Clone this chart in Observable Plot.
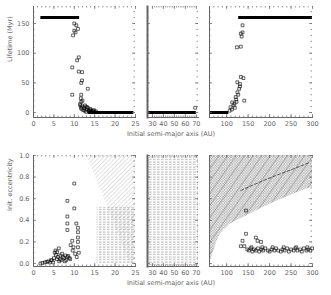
<!DOCTYPE html>
<html><head><meta charset="utf-8">
<script src="https://cdn.jsdelivr.net/npm/d3@7"></script>
<script src="https://cdn.jsdelivr.net/npm/@observablehq/plot@0.6"></script>
<style>
body{margin:0;background:#fff}
#c{position:relative;width:331px;height:295px;overflow:hidden;font-family:"DejaVu Sans",sans-serif;background:#fff}
#c svg{position:absolute;overflow:visible;background:transparent}
</style></head><body><div id="c"></div>
<script>
// ---------- data ----------
const xTitle = "Initial semi-major axis (AU)";
const yTitleTop = "Lifetime (Myr)";
const yTitleBottom = "Init. eccentricity";

// top-left (lifetime vs a, 0-25 AU)
const tlFlat = [{a1: 1.8, a2: 11.3, v: 160}, {a1: 13.5, a2: 24.6, v: 0}];
const tlA = [10.0,10.5,10.0,9.7,10.9,10.3,11.1,10.7,9.5,11.1,11.9,11.9,11.7,13.3,9.5,11.7,11.6,11.7,11.9,11.6,12.8,13.3,13.9,12.5,14.6,13.6,14.2,15.0,11.4,11.8,12.2,12.6,13.0,13.5,14.0,14.4,12.0,12.4,13.1,13.8,11.5,12.9,14.8,15.3];
const tlL = [150,147,138,130,141,135,93,88,76,69,68,54,50,40,30,30,24,18,10,8,10,8,6,3,3,3,1,1,14,6,4,12,5,2,4,2,20,7,9,3,12,1,4,2];
// top-middle (25-72 AU)
const tmFlat = [{a1: 25.5, a2: 70, v: 0}];
const tmA = [69];
const tmL = [8];
// top-right (60-300 AU)
const trFlat = [{a1: 60, a2: 105, v: 0}, {a1: 128, a2: 300, v: 160}];
const trA = [109,113,121,125,129,141,131,125,133,139,124,133,133,137,135,137,118,127,122,131,116,112,119,123,107];
const trL = [9,17,26,34,40,20,48,51,60,58,110,111,133,135,128,147,15,30,22,44,12,5,8,18,3];

// bottom-left (eccentricity vs a)
const blA = [10.0,8.3,10.0,8.3,8.3,8.3,10.5,10.9,10.9,10.9,10.9,10.9,11.1,9.5,9.1,9.8,6.2,5.8,5.4,6.6,7.8,8.3,4.5,5.0,5.5,6.0,6.5,7.0,7.5,8.0,8.5,9.0,5.2,6.3,7.2,4.8,5.7,6.8,7.7,8.8,1.7,2.2,2.8,3.2,3.6,4.0,4.3,9.6,10.2,10.6];
const blE = [0.74,0.58,0.51,0.435,0.37,0.31,0.37,0.33,0.29,0.24,0.20,0.15,0.10,0.21,0.17,0.15,0.14,0.105,0.12,0.074,0.074,0.06,0.03,0.05,0.08,0.06,0.04,0.09,0.05,0.03,0.07,0.04,0.10,0.02,0.06,0.01,0.04,0.03,0.02,0.05,0.0,0.005,0.01,0.015,0.02,0.01,0.03,0.12,0.09,0.06];
// excluded regions, bottom-left
const blDiagA = [13.0, 18.5, 23.5];
const blDiagE = [1.0, 0.5, 0.0];
const blHoriz = [{a1: 15.6, a2: 25, e1: 0, e2: 0.52}];
// bottom-middle excluded region (whole panel)
const bmHoriz = [{a1: 25.5, a2: 72, e1: -0.028, e2: 1.0}];
// bottom-right
const brBoundA = [60,70,82,102,141,180,219,258,302];
const brBoundE = [0.0,0.12,0.245,0.34,0.43,0.51,0.58,0.645,0.71];
const brDash1A = [133,175,215,255,293];
const brDash1E = [0.676,0.75,0.815,0.875,0.935];
const brA = [145,145,168,172,180,137,133,141,148,152,156,160,164,168,173,176,181,185,190,196,200,205,211,215,220,226,230,235,241,245,250,256,260,265,271,275,280,286,290,295,299,158,183,207,233,262,288];
const brE = [0.49,0.275,0.24,0.21,0.20,0.21,0.16,0.16,0.13,0.12,0.14,0.11,0.13,0.12,0.14,0.11,0.13,0.12,0.14,0.12,0.11,0.13,0.12,0.14,0.12,0.11,0.13,0.12,0.14,0.11,0.13,0.12,0.14,0.12,0.13,0.11,0.14,0.12,0.13,0.12,0.14,0.15,0.15,0.15,0.15,0.15,0.15];

// ---------- layout ----------
const root = document.getElementById("c");
const TXT = "#666";
const LINE = "#666";

function defs(id) {
  return () => {
    const d = d3.create("svg:defs");
    const h = d.append("pattern").attr("id", "hz" + id).attr("patternUnits", "userSpaceOnUse").attr("width", 4).attr("height", 2.5);
    h.append("line").attr("x1", 0).attr("x2", 4).attr("y1", 1).attr("y2", 1).attr("stroke", "#888").attr("stroke-width", 0.7).attr("stroke-dasharray", "2.6 1.4");
    const g = d.append("pattern").attr("id", "dg" + id).attr("patternUnits", "userSpaceOnUse").attr("width", 3).attr("height", 3).attr("patternTransform", "rotate(45)");
    g.append("line").attr("x1", 0).attr("x2", 0).attr("y1", 0).attr("y2", 3).attr("stroke", "#999").attr("stroke-width", 0.6);
    const b = d.append("pattern").attr("id", "br" + id).attr("patternUnits", "userSpaceOnUse").attr("width", 2.6).attr("height", 2.6);
    b.append("circle").attr("cx", 1.3).attr("cy", 1.3).attr("r", 0.9).attr("fill", "none").attr("stroke", "#777").attr("stroke-width", 0.5);
    const l = d.append("pattern").attr("id", "bl" + id).attr("patternUnits", "userSpaceOnUse").attr("width", 7).attr("height", 7).attr("patternTransform", "rotate(35)");
    l.append("line").attr("x1", 0).attr("x2", 0).attr("y1", 0).attr("y2", 7).attr("stroke", "#444").attr("stroke-width", 0.6);
    return d.node();
  };
}

function range(a, b, s) { const r = []; for (let v = a; v <= b + 1e-9; v += s) r.push(+v.toFixed(4)); return r; }

function panel(o) {
  const ml = 30, mr = 4, mt = 4, mb = 24;
  const [x0, x1] = o.xDomain, [y0, y1] = o.yDomain;
  const kx = (x1 - x0) / o.w, ky = (y1 - y0) / o.h; // data units per pixel, for tick lengths
  const tk = {stroke: LINE, strokeWidth: 0.7};
  const marks = [
    defs(o.id),
    ...o.marks,
    Plot.frame({anchor: "left", stroke: LINE, strokeWidth: o.leftWidth || 1}),
    Plot.frame({anchor: "bottom", stroke: LINE}),
    // inward ticks on all four sides
    Plot.ruleX(o.xMinor, {x: d => d, y1: y0, y2: y0 + 1.5 * ky, ...tk}),
    Plot.ruleX(o.xMinor, {x: d => d, y1: y1, y2: y1 - 1.5 * ky, ...tk}),
    Plot.ruleX(o.xTicks, {x: d => d, y1: y0, y2: y0 + 3 * ky, ...tk}),
    Plot.ruleX(o.xTicks, {x: d => d, y1: y1, y2: y1 - 3 * ky, ...tk}),
    Plot.ruleY(o.yMinor, {y: d => d, x1: x0, x2: x0 + 1.5 * kx, ...tk}),
    Plot.ruleY(o.yMinor, {y: d => d, x1: x1, x2: x1 - 1.5 * kx, ...tk}),
    Plot.ruleY(o.yTicks, {y: d => d, x1: x0, x2: x0 + 3 * kx, ...tk}),
    Plot.ruleY(o.yTicks, {y: d => d, x1: x1, x2: x1 - 3 * kx, ...tk}),
    Plot.axisX(o.xTicks, {anchor: "bottom", tickSize: 0, tickPadding: 4, fontSize: 6.5, fill: TXT, label: null}),
    ...(o.showY ? [Plot.axisY(o.yTicks, {anchor: "left", tickSize: 0, tickPadding: 4, fontSize: 6.5, fill: TXT, label: null, tickFormat: o.yFormat})] : []),
    ...(o.extra || [])
  ];
  const p = Plot.plot({
    width: o.w + ml + mr, height: o.h + mt + mb,
    marginLeft: ml, marginRight: mr, marginTop: mt, marginBottom: mb,
    x: {domain: o.xDomain, label: null, axis: null}, y: {domain: o.yDomain, label: null, axis: null},
    style: {fontFamily: "DejaVu Sans, sans-serif", background: "transparent", color: TXT},
    marks
  });
  p.style.left = (o.left - ml) + "px";
  p.style.top = (o.top - mt) + "px";
  root.appendChild(p);
}

const dotOpts = {symbol: "square", r: 1.6, stroke: "#000", fill: "none", strokeWidth: 0.6};
const yTop = [-8.4, 178.7];
const yBot = [-0.028, 1.0];
const fmtE = d3.format(".1f");
const titleX = t => Plot.text([t], {frameAnchor: "bottom", dy: 18, dx: -2, fontSize: 6.5, fill: TXT});
const titleY = t => Plot.text([t], {frameAnchor: "left", dx: -24, rotate: -90, fontSize: 6.5, fill: TXT});

// top row
panel({id: "a", left: 33, top: 6, w: 102, h: 111, xDomain: [0, 25], yDomain: yTop,
  xTicks: [0,5,10,15,20,25], xMinor: range(0,25,1), yTicks: [0,50,100,150], yMinor: range(0,170,10), showY: true, yFormat: d3.format("d"),
  extra: [titleY(yTitleTop)],
  marks: [
    Plot.ruleY(tlFlat, {x1: "a1", x2: "a2", y: "v", stroke: "#000", strokeWidth: 3}),
    Plot.dot(tlA.map((a, i) => ({a, v: tlL[i]})), {x: "a", y: "v", ...dotOpts})
  ]});
panel({id: "b", left: 147, top: 6, w: 51, h: 111, xDomain: [25.5, 72], yDomain: yTop, leftWidth: 2,
  xTicks: [30,40,50,60,70], xMinor: range(30,70,2), yTicks: [0,50,100,150], yMinor: range(0,170,10), showY: false,
  extra: [titleX(xTitle)],
  marks: [
    Plot.ruleY(tmFlat, {x1: "a1", x2: "a2", y: "v", stroke: "#000", strokeWidth: 3}),
    Plot.dot(tmA.map((a, i) => ({a, v: tmL[i]})), {x: "a", y: "v", ...dotOpts})
  ]});
panel({id: "c", left: 209, top: 6, w: 103, h: 111, xDomain: [60, 300], yDomain: yTop,
  xTicks: [100,150,200,250,300], xMinor: range(60,300,10), yTicks: [0,50,100,150], yMinor: range(0,170,10), showY: false,
  marks: [
    Plot.ruleY(trFlat, {x1: "a1", x2: "a2", y: "v", stroke: "#000", strokeWidth: 3}),
    Plot.dot(trA.map((a, i) => ({a, v: trL[i]})), {x: "a", y: "v", ...dotOpts})
  ]});

// bottom row
panel({id: "d", left: 33, top: 155, w: 102, h: 111, xDomain: [0, 25], yDomain: yBot,
  xTicks: [0,5,10,15,20,25], xMinor: range(0,25,1), yTicks: [0,0.2,0.4,0.6,0.8,1.0], yMinor: range(0,1,0.05), showY: true, yFormat: fmtE,
  extra: [titleY(yTitleBottom)],
  marks: [
    Plot.rect(blHoriz, {x1: "a1", x2: "a2", y1: "e1", y2: "e2", fill: "url(#hzd)"}),
    Plot.areaX(blDiagA.map((a, i) => ({a, e: blDiagE[i]})), {y: "e", x1: "a", x2: 25, fill: "url(#dgd)", clip: true}),
    Plot.dot(blA.map((a, i) => ({a, e: blE[i]})), {x: "a", y: "e", ...dotOpts})
  ]});
panel({id: "e", left: 147, top: 155, w: 51, h: 111, xDomain: [25.5, 72], yDomain: yBot, leftWidth: 2,
  xTicks: [30,40,50,60,70], xMinor: range(30,70,2), yTicks: [0,0.2,0.4,0.6,0.8,1.0], yMinor: range(0,1,0.05), showY: false,
  extra: [titleX(xTitle)],
  marks: [
    Plot.rect(bmHoriz, {x1: "a1", x2: "a2", y1: "e1", y2: "e2", fill: "url(#hze)"})
  ]});
panel({id: "f", left: 209, top: 155, w: 103, h: 111, xDomain: [60, 300], yDomain: yBot,
  xTicks: [100,150,200,250,300], xMinor: range(60,300,10), yTicks: [0,0.2,0.4,0.6,0.8,1.0], yMinor: range(0,1,0.05), showY: false,
  marks: [
    Plot.areaY(brBoundA.map((a, i) => ({a, e: brBoundE[i]})), {x: "a", y1: "e", y2: 1.0, fill: "url(#brf)", curve: "monotone-x", clip: true}),
    Plot.areaY(brBoundA.map((a, i) => ({a, e: brBoundE[i]})), {x: "a", y1: "e", y2: 1.0, fill: "url(#blf)", curve: "monotone-x", clip: true}),
    Plot.line(brDash1A.map((a, i) => ({a, e: brDash1E[i]})), {x: "a", y: "e", stroke: "#333", strokeWidth: 0.8, strokeDasharray: "3 2", curve: "monotone-x", clip: true}),
    Plot.dot(brA.map((a, i) => ({a, e: brE[i]})), {x: "a", y: "e", ...dotOpts})
  ]});
</script></body></html>
